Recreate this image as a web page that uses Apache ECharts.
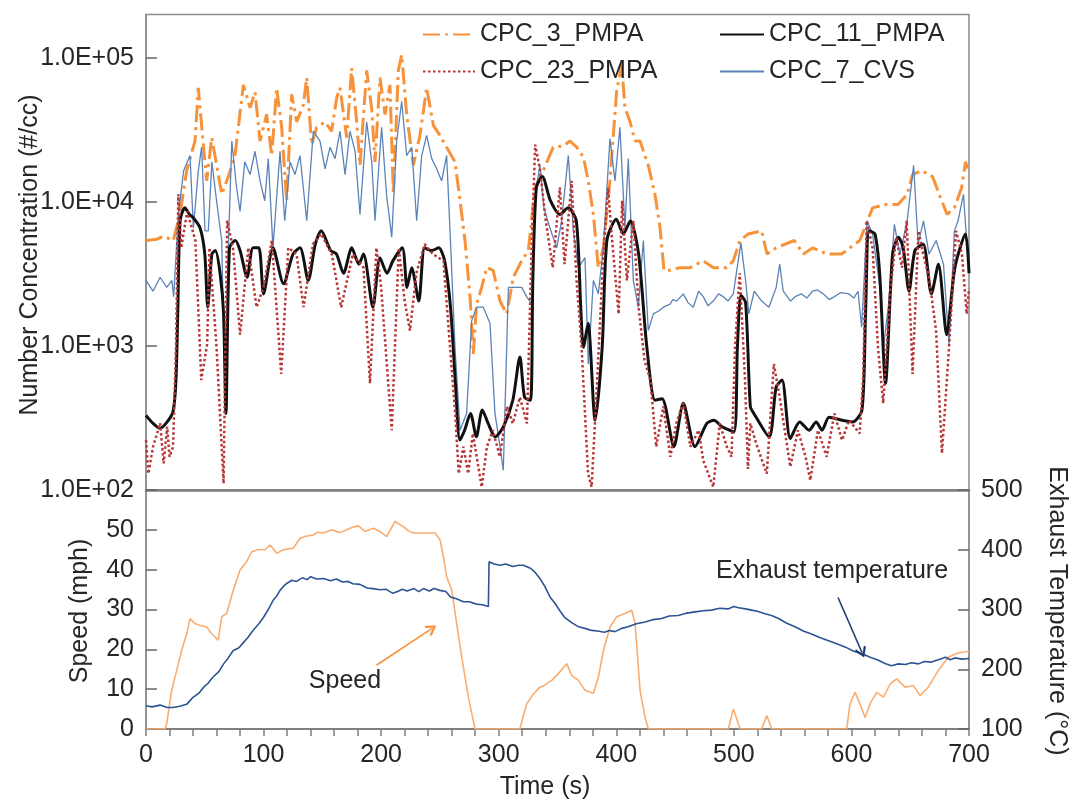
<!DOCTYPE html>
<html><head><meta charset="utf-8">
<script src="https://cdn.jsdelivr.net/npm/echarts@6/dist/echarts.min.js"></script>
<style>html,body{margin:0;padding:0;background:#fff}#c{width:1079px;height:806px}</style>
</head><body><div id="c"></div>
<script>
// ---------- data (time s, value) ----------
const cpc3 = [[0,5400],[9,5500],[14.7,5800],[23.2,5400],[28.9,8200],[34.6,16500],[41.7,26500],[44.5,62000],[47.3,34000],[51.6,14000],[55.9,28000],[60.1,18000],[64.4,11300],[70,15000],[75.7,21000],[82.8,65000],[88.5,45000],[92.7,58000],[97,26500],[102.6,40500],[106.9,21000],[111.1,62000],[115.4,33000],[119.6,10200],[123.9,56000],[128.2,36000],[133.8,47000],[136.7,73000],[140.9,25000],[145.2,33000],[152.3,36000],[157.9,31000],[162.2,53000],[165,62000],[170.7,28000],[174.9,85000],[179.2,36000],[182,18000],[187.7,82000],[191.9,45000],[194.8,19000],[199,73000],[203.3,40500],[207.5,65000],[210.4,11300],[214.6,82000],[217.5,105000],[221.7,40500],[227.4,18000],[233,29000],[238.7,62000],[244.4,34000],[250,29000],[255.7,24000],[262.8,19000],[267.1,10200],[271.3,5400],[275.6,2200],[278.4,880],[281.2,1950],[285.5,2550],[289.8,3500],[295.3,3350],[301.1,2050],[306.8,1670],[312.4,3000],[319.5,3900],[325.2,4600],[330.9,12600],[336.5,15500],[342.2,20000],[346.4,24000],[355,24500],[360.6,26500],[366.3,24000],[372,20500],[376.2,14000],[380.5,8200],[384.7,3500],[389,4800],[394.6,14000],[400.3,59000],[404.6,90000],[407.4,45000],[411.7,36000],[415.9,26500],[420.2,26500],[427.2,18000],[432.9,11300],[437.2,6600],[440.6,3350],[445.7,3350],[454.2,3500],[462.7,3500],[474,3900],[482.5,3500],[493.9,3500],[499.5,3900],[505.2,5400],[512.3,6000],[523.6,6300],[528.2,4350],[536,4800],[551.4,5400],[559.2,4350],[566.9,4800],[579.3,4350],[591.7,4350],[607.1,5400],[618,9100],[628.8,9600],[639.6,9600],[647.4,11300],[652,15500],[659.8,16500],[669,15000],[675.2,11000],[681.4,8200],[687.6,9100],[693.8,12600],[697,19000],[700,16000]];

const cpc11 = [[0,330],[6,290],[12,268],[18,297],[23,350],[25.5,580],[27,1670],[29,7400],[33,9100],[37,8200],[40,7800],[46,6600],[50,4350],[52.5,1860],[56,4350],[59,4600],[63,3200],[66,1670],[68,340],[71,4800],[76,5400],[80,4600],[86,3000],[91,4800],[96,4800],[100,2300],[108,4800],[117,2700],[125,4350],[131,4800],[138,2850],[144,5100],[149,6300],[157,4600],[162,4350],[168,3200],[175,4800],[181,3700],[185,4350],[193,1860],[199,4100],[205,3200],[210,3900],[218,4800],[222,2550],[226,3500],[232,2050],[237,4800],[243,4600],[249,4800],[254,3900],[259,1860],[263,580],[267,222],[271,260],[276,340],[281,234],[286,360],[291,290],[297,234],[304,275],[312,420],[318,840],[322,440],[327,420],[329,2850],[332,12600],[337,15000],[344,10200],[352,8200],[359,9100],[366,7400],[370,1670],[372,980],[376,1430],[382,305],[388,980],[392,5400],[400,7600],[406,6000],[412,7400],[419,4350],[426,980],[433,420],[439,430],[449,200],[457,400],[467,200],[477,290],[483,305],[490,275],[500,253],[503,980],[506,2250],[510,2000],[514,380],[517,340],[530,234],[536,520],[541,580],[548,228],[556,297],[564,260],[570,297],[575,260],[581,320],[592,305],[601,297],[609,360],[612,1670],[615,6300],[620,6000],[624,3200],[629,550],[635,4350],[640,5700],[644,4800],[649,2400],[654,4600],[661,5100],[668,2300],[674,3700],[681,1200],[688,3500],[697,6000],[700,3200]];

const cpc23 = [[0,222],[2,130],[6,200],[12,290],[15,153],[18,275],[20,170],[23,200],[25.5,980],[27.5,11300],[30,4800],[35,8600],[42,5400],[47,580],[52,1030],[54,4800],[60,980],[66,111],[69,7400],[74,4800],[80,1200],[87,4800],[94,1860],[100,2550],[107,5400],[115,640],[121,4800],[128,4350],[134,1860],[142,5100],[149,6000],[158,4350],[166,1860],[176,4350],[185,3500],[190.5,550],[196,4800],[200,2550],[209,260],[215,4800],[220,2050],[224.5,1280],[230,3200],[237,5100],[244,4350],[253,3900],[258.6,980],[263,340],[266,130],[270,200],[274,130],[278,247],[285.5,105],[290,200],[295,260],[301,170],[307,380],[312,290],[318,440],[324,290],[328,4800],[331,25000],[335,17000],[340,7400],[346,3500],[352,12600],[356,3700],[362,14000],[366,3000],[370.5,980],[376,130],[379,105],[383,440],[389,4350],[393,12600],[396,6000],[402,1670],[405,10200],[409,2850],[414.5,7400],[419,1860],[424,795],[429,580],[434,200],[440,380],[446,170],[451,290],[457,400],[463,200],[470,260],[474,160],[482.5,105],[488,290],[494,200],[498,170],[501,980],[505,3200],[509.5,580],[512,140],[514,290],[519,210],[528,130],[534,750],[539,440],[548,145],[554.5,260],[561,170],[565,117],[571.5,260],[579,170],[585.5,340],[592,222],[598,305],[607,247],[610,600],[613,7400],[618,4800],[622.6,980],[627,400],[633,2400],[638,5700],[643,3500],[647,7400],[652,640],[657,6300],[661,4350],[666,3000],[672,1280],[677,180],[683,980],[689,6300],[694,4350],[698,1670],[700,2500]];

const cpc7 = [[0,2850],[6,2400],[12,3000],[17.6,2550],[22,2850],[23.5,2200],[27.5,8200],[32,16500],[37.4,21000],[40.3,6600],[44.5,16500],[47.3,24000],[50.2,6300],[53,6300],[56,19000],[60,10200],[64.4,5400],[67.2,440],[70,4800],[73,26500],[77,12600],[80,8600],[84,19000],[88.5,15500],[92.7,22500],[97,14000],[101,10200],[104,20000],[108,4800],[114,22500],[118,7400],[122.5,19000],[126.7,15500],[131,21000],[136.7,7400],[142.3,31000],[148,26500],[152.3,17000],[156.5,24000],[160.8,20000],[165,31000],[169.3,15500],[173.5,31000],[177.8,22500],[182,8200],[187.7,36000],[192,19000],[194.8,7400],[200.4,33000],[204.7,11000],[209,5700],[213.2,26500],[217.5,50000],[221.7,21000],[226,24000],[230.2,7400],[234.5,21000],[238.7,29000],[243,20000],[247.2,17000],[251.5,14000],[255.7,21000],[258.6,6300],[262.8,980],[267.1,260],[272.7,340],[277,1500],[281.2,1860],[286.9,1860],[292.6,1430],[296.8,340],[301.1,200],[303.9,137],[308.2,2550],[312.4,2550],[319.5,2550],[323.8,2200],[328,1950],[330.9,11300],[335.1,18000],[338.5,9000],[343.6,6600],[349.3,4800],[353.5,7400],[359.2,21000],[363.5,6300],[367.7,3500],[373.4,4100],[376.2,750],[380.5,2850],[384.7,2300],[389,4800],[394.6,27500],[398.9,14000],[403.1,33000],[407.4,6600],[410.2,20000],[414.5,2850],[418.7,1860],[423,5400],[427.2,1280],[431.5,1670],[436,1750],[440,1860],[445.7,1950],[448,2100],[451.3,2050],[457,2300],[461,2000],[465.5,1860],[470,2400],[474,2200],[478,1900],[482.5,2050],[487,2300],[491,2200],[495,2050],[499.5,2300],[506,5200],[510,2850],[512.7,1670],[517.4,2400],[523.6,2050],[529.8,1860],[536,2550],[539,3700],[542,2400],[548.3,2050],[552,2200],[557.6,2300],[562,2150],[566.9,2400],[571,2450],[576.2,2300],[581,2100],[585.5,2200],[591,2350],[597.9,2300],[602,2150],[605.6,2400],[608.7,1350],[613.3,7400],[618,6000],[624.2,2550],[627.3,980],[631.9,2050],[636.5,7000],[641.2,4350],[647.4,7400],[652.9,18000],[656.7,5100],[661.3,7400],[666,4350],[672.1,5400],[678.3,3700],[683,1030],[687.6,6300],[690.7,7400],[695.3,11300],[698.4,4800],[700,3500]];

const speed = [[0,0],[16.2,0],[17.6,1.3],[21.8,9.7],[26.1,14.7],[30.3,19.7],[34.6,23.9],[37.4,27.7],[41.7,26.5],[45.9,26],[51.6,25.6],[55.9,23.9],[61.5,22.3],[64.4,28.2],[68.6,29],[74.3,34.9],[80,39.9],[85.6,42],[89.9,44.5],[95.5,45],[101.2,45],[105.5,46.2],[111.1,44.1],[116.8,45],[125.3,45.4],[131,47.9],[136,48.4],[142.3,48.7],[146,49.4],[150.8,49.2],[157.9,50],[165,49.3],[170.7,50],[175,50.6],[180.6,51],[186.3,49.6],[193.4,50.4],[199,49.6],[204.7,48.3],[211.8,52.1],[218.9,50.8],[223,49.8],[227.4,49.2],[235.9,49.2],[245.8,49.2],[250.1,47.5],[252.9,43.3],[255.7,38.2],[260,34.9],[264.2,26.5],[268.5,18.1],[274.2,8],[279.8,0],[318,0],[323.8,6.3],[329.5,8.8],[335.1,10.5],[339,11],[345.1,12.2],[350.7,13.9],[357.8,16.4],[362.1,13.4],[367.8,12.2],[373.4,9.7],[380.5,9],[384.8,13],[389,19.7],[394.7,25.6],[400.4,28.2],[407.4,29],[413.1,29.8],[416,26.5],[420.2,9.7],[424.5,2.9],[427.3,0],[495.3,0],[499.6,5],[505.3,0],[523.7,0],[528,3.4],[532.2,0],[596,0],[598.8,6.3],[603.1,9.2],[607.3,6.3],[611.6,2.9],[615.8,6.3],[621.5,9.2],[627.2,8],[632.9,11.3],[638.5,12.6],[645.6,10.5],[652.7,10.9],[658.4,8.4],[665.4,10.5],[673.9,14.7],[682.5,18.1],[690,19],[700,19.5]];

const exhaustTemp = [[0,139],[5,137],[12,140],[18,136],[23,136],[29,138],[35,142],[40,153],[45,160],[49,170],[53,177],[57,187],[62,196],[66,209],[70,219],[74,231],[79,236],[83,245],[87,254],[91,265],[96,276],[100,287],[104,300],[108,315],[111,322],[114,332],[117,339],[120,344],[124,349],[128,347],[133,353],[137,350],[140,355],[145,351],[151,352],[157,348],[162,351],[167,346],[172,347],[176,343],[182,342],[188,336],[193,335],[199,333],[204,334],[210,327],[214,330],[218,334],[222,331],[228,335],[232,330],[236,335],[241,331],[245,335],[250,332],[255,330],[259,321],[264,318],[270,313],[275,313],[281,309],[286,308],[291.2,305],[291.8,380],[296,376],[301,374],[306,376],[312,372],[317,374],[321,374],[327,369],[331,362],[335,352],[339.4,338],[343.6,321],[348,310],[352,298],[356,287],[362,278],[368,271],[374,268],[379,265],[384,264],[390,262],[394,265],[399,263],[404,268],[410,271],[417,276],[424.5,279],[431,283],[438.6,285],[445,289],[452.8,290],[460,294],[467,296],[474,298],[481,299],[488,302],[495,301],[500,305],[504,303],[510,301],[515,299],[520,297],[526.5,293],[532,290],[538,285],[545,277],[552,271],[559,264],[566,259],[573,253],[580,248],[587,243],[595,237],[602,230],[609,226],[616,220],[623,215],[628,210],[634,206],[640,209],[646,208],[651,211],[657,209],[662,213],[668,212],[674,216],[680,220],[684,216],[688,219],[694,217],[700,218]];

const speedArrow = [[196,16],[243,25.2]];
const tempArrow = [[588.6,320],[609,228]];

// ---------- layout ----------
const FONT = '"Liberation Sans", Arial, sans-serif';
const TXT = '#262626';
const AX = '#8c8c8c';
const L = 146, R = 110;
const OPEN_ARROW = 'path://M5,0 L10,7 L8.6,8.2 L5,3 L1.4,8.2 L0,7 Z';

const chart = echarts.init(document.getElementById('c'), null, {renderer:'canvas'});

function sci(v){
  const e = Math.log10(v);
  if (Math.abs(e - Math.round(e)) > 1e-6) return '';
  const n = Math.round(e);
  return '1.0E+' + (n < 10 ? '0' + n : n);
}

const hiddenSym = {color: 'rgba(0,0,0,0)', borderColor: 'rgba(0,0,0,0)', borderWidth: 0, opacity: 0};

const option = {
  backgroundColor: '#fff',
  animation: false,
  textStyle: {fontFamily: FONT, color: TXT},
  grid: [
    {left: L, right: R, top: 14.6, height: 475.4, show: true, borderColor: AX, borderWidth: 1.5, backgroundColor: 'transparent'},
    {left: L, right: R, top: 490, height: 239, show: true, borderColor: AX, borderWidth: 1.5, backgroundColor: 'transparent'}
  ],
  legend: [
    {left: 417, top: 17, orient: 'vertical', itemGap: 12, itemWidth: 52, itemHeight: 14, itemStyle: hiddenSym,
     textStyle: {fontSize: 25, color: TXT, fontFamily: FONT}, data: ['CPC_3_PMPA','CPC_23_PMPA']},
    {left: 714, top: 17, orient: 'vertical', itemGap: 12, itemWidth: 44, itemHeight: 14, itemStyle: hiddenSym,
     textStyle: {fontSize: 25, color: TXT, fontFamily: FONT}, data: ['CPC_11_PMPA','CPC_7_CVS']}
  ],
  xAxis: [
    {gridIndex: 0, type: 'value', min: 0, max: 700, interval: 100,
     axisLine: {show: true, lineStyle: {color: '#7f7f7f', width: 2.5}},
     axisTick: {show: false}, axisLabel: {show: false}, splitLine: {show: false}},
    {gridIndex: 1, type: 'value', min: 0, max: 700, interval: 20,
     axisLine: {show: true, onZero: false, lineStyle: {color: '#7f7f7f', width: 2}},
     axisTick: {show: true, inside: false, length: 7, lineStyle: {color: '#7f7f7f', width: 1.5}},
     axisLabel: {show: true, fontSize: 25, color: TXT, fontFamily: FONT, margin: 14, hideOverlap: false,
       formatter: v => (v % 100 === 0 ? String(v) : '')},
     splitLine: {show: false}}
  ],
  yAxis: [
    {gridIndex: 0, type: 'log', logBase: 10, min: 100, max: 200000,
     axisLine: {show: true, lineStyle: {color: AX, width: 1.5}},
     axisTick: {show: true, inside: true, length: 11, lineStyle: {color: '#666', width: 1.5}},
     axisLabel: {fontSize: 25, color: TXT, fontFamily: FONT, margin: 12, formatter: sci, showMaxLabel: false},
     minorTick: {show: false}, splitLine: {show: false}},
    {gridIndex: 1, type: 'value', min: 0, max: 60, interval: 10,
     axisLine: {show: true, onZero: false, lineStyle: {color: AX, width: 1.5}},
     axisTick: {show: true, inside: true, length: 11, lineStyle: {color: '#666', width: 1.5}},
     axisLabel: {fontSize: 25, color: TXT, fontFamily: FONT, margin: 12, formatter: v => (v === 60 ? '' : String(v))},
     splitLine: {show: false}},
    {gridIndex: 1, type: 'value', position: 'right', min: 100, max: 500, interval: 100,
     axisLine: {show: true, onZero: false, lineStyle: {color: AX, width: 1.5}},
     axisTick: {show: true, inside: true, length: 11, lineStyle: {color: '#666', width: 1.5}},
     axisLabel: {fontSize: 25, color: TXT, fontFamily: FONT, margin: 12},
     splitLine: {show: false}}
  ],
  series: [
    {name: 'CPC_3_PMPA', type: 'line', xAxisIndex: 0, yAxisIndex: 0, data: cpc3, symbol: 'none', z: 2,
     lineStyle: {color: '#f7923a', width: 3, type: [17, 5, 3, 5], cap: 'butt'}, itemStyle: {color: '#f7923a'}},
    {name: 'CPC_7_CVS', type: 'line', xAxisIndex: 0, yAxisIndex: 0, data: cpc7, symbol: 'none', z: 3,
     lineStyle: {color: '#5b83b8', width: 1.3}, itemStyle: {color: '#5b83b8'}},
    {name: 'CPC_11_PMPA', type: 'line', xAxisIndex: 0, yAxisIndex: 0, data: cpc11, symbol: 'none', z: 4, smooth: 0.25,
     lineStyle: {color: '#111111', width: 3}, itemStyle: {color: '#111111'}},
    {name: 'CPC_23_PMPA', type: 'line', xAxisIndex: 0, yAxisIndex: 0, data: cpc23, symbol: 'none', z: 5,
     lineStyle: {color: '#b73535', width: 2.5, type: [2.5, 2.5], cap: 'butt'}, itemStyle: {color: '#b73535'}},
    {name: 'Speed', type: 'line', xAxisIndex: 1, yAxisIndex: 1, data: speed, symbol: 'none', z: 3,
     lineStyle: {color: '#f9ad70', width: 1.6},
     markLine: {silent: true, symbol: ['none', OPEN_ARROW], symbolSize: [12, 11], animation: false,
       label: {show: false}, lineStyle: {color: '#f7923a', width: 1.6, type: 'solid'},
       itemStyle: {color: '#f7923a'},
       data: [[{coord: speedArrow[0]}, {coord: speedArrow[1]}]]}},
    {name: 'Exhaust', type: 'line', xAxisIndex: 1, yAxisIndex: 2, data: exhaustTemp, symbol: 'none', z: 4,
     lineStyle: {color: '#2c5493', width: 1.6},
     markLine: {silent: true, symbol: ['none', OPEN_ARROW], symbolSize: [12, 11], animation: false,
       label: {show: false}, lineStyle: {color: '#1f3f73', width: 1.6, type: 'solid'},
       itemStyle: {color: '#1f3f73'},
       data: [[{coord: tempArrow[0]}, {coord: tempArrow[1]}]]}}
  ],
  graphic: [
    {type: 'text', x: 30, y: 255, rotation: Math.PI / 2,
     style: {text: 'Number Concentration (#/cc)', font: '25px ' + FONT, fill: TXT, align: 'center', verticalAlign: 'middle'}},
    {type: 'text', x: 80, y: 611, rotation: Math.PI / 2,
     style: {text: 'Speed (mph)', font: '25px ' + FONT, fill: TXT, align: 'center', verticalAlign: 'middle'}},
    {type: 'text', x: 1057, y: 611, rotation: -Math.PI / 2,
     style: {text: 'Exhaust Temperature (°C)', font: '25px ' + FONT, fill: TXT, align: 'center', verticalAlign: 'middle'}},
    {type: 'text', x: 545, y: 787,
     style: {text: 'Time (s)', font: '25px ' + FONT, fill: TXT, align: 'center', verticalAlign: 'middle'}},
    {type: 'text', x: 345, y: 681,
     style: {text: 'Speed', font: '25px ' + FONT, fill: TXT, align: 'center', verticalAlign: 'middle'}},
    {type: 'text', x: 716, y: 571,
     style: {text: 'Exhaust temperature', font: '25px ' + FONT, fill: TXT, align: 'left', verticalAlign: 'middle'}}
  ]
};
chart.setOption(option);
</script></body></html>
